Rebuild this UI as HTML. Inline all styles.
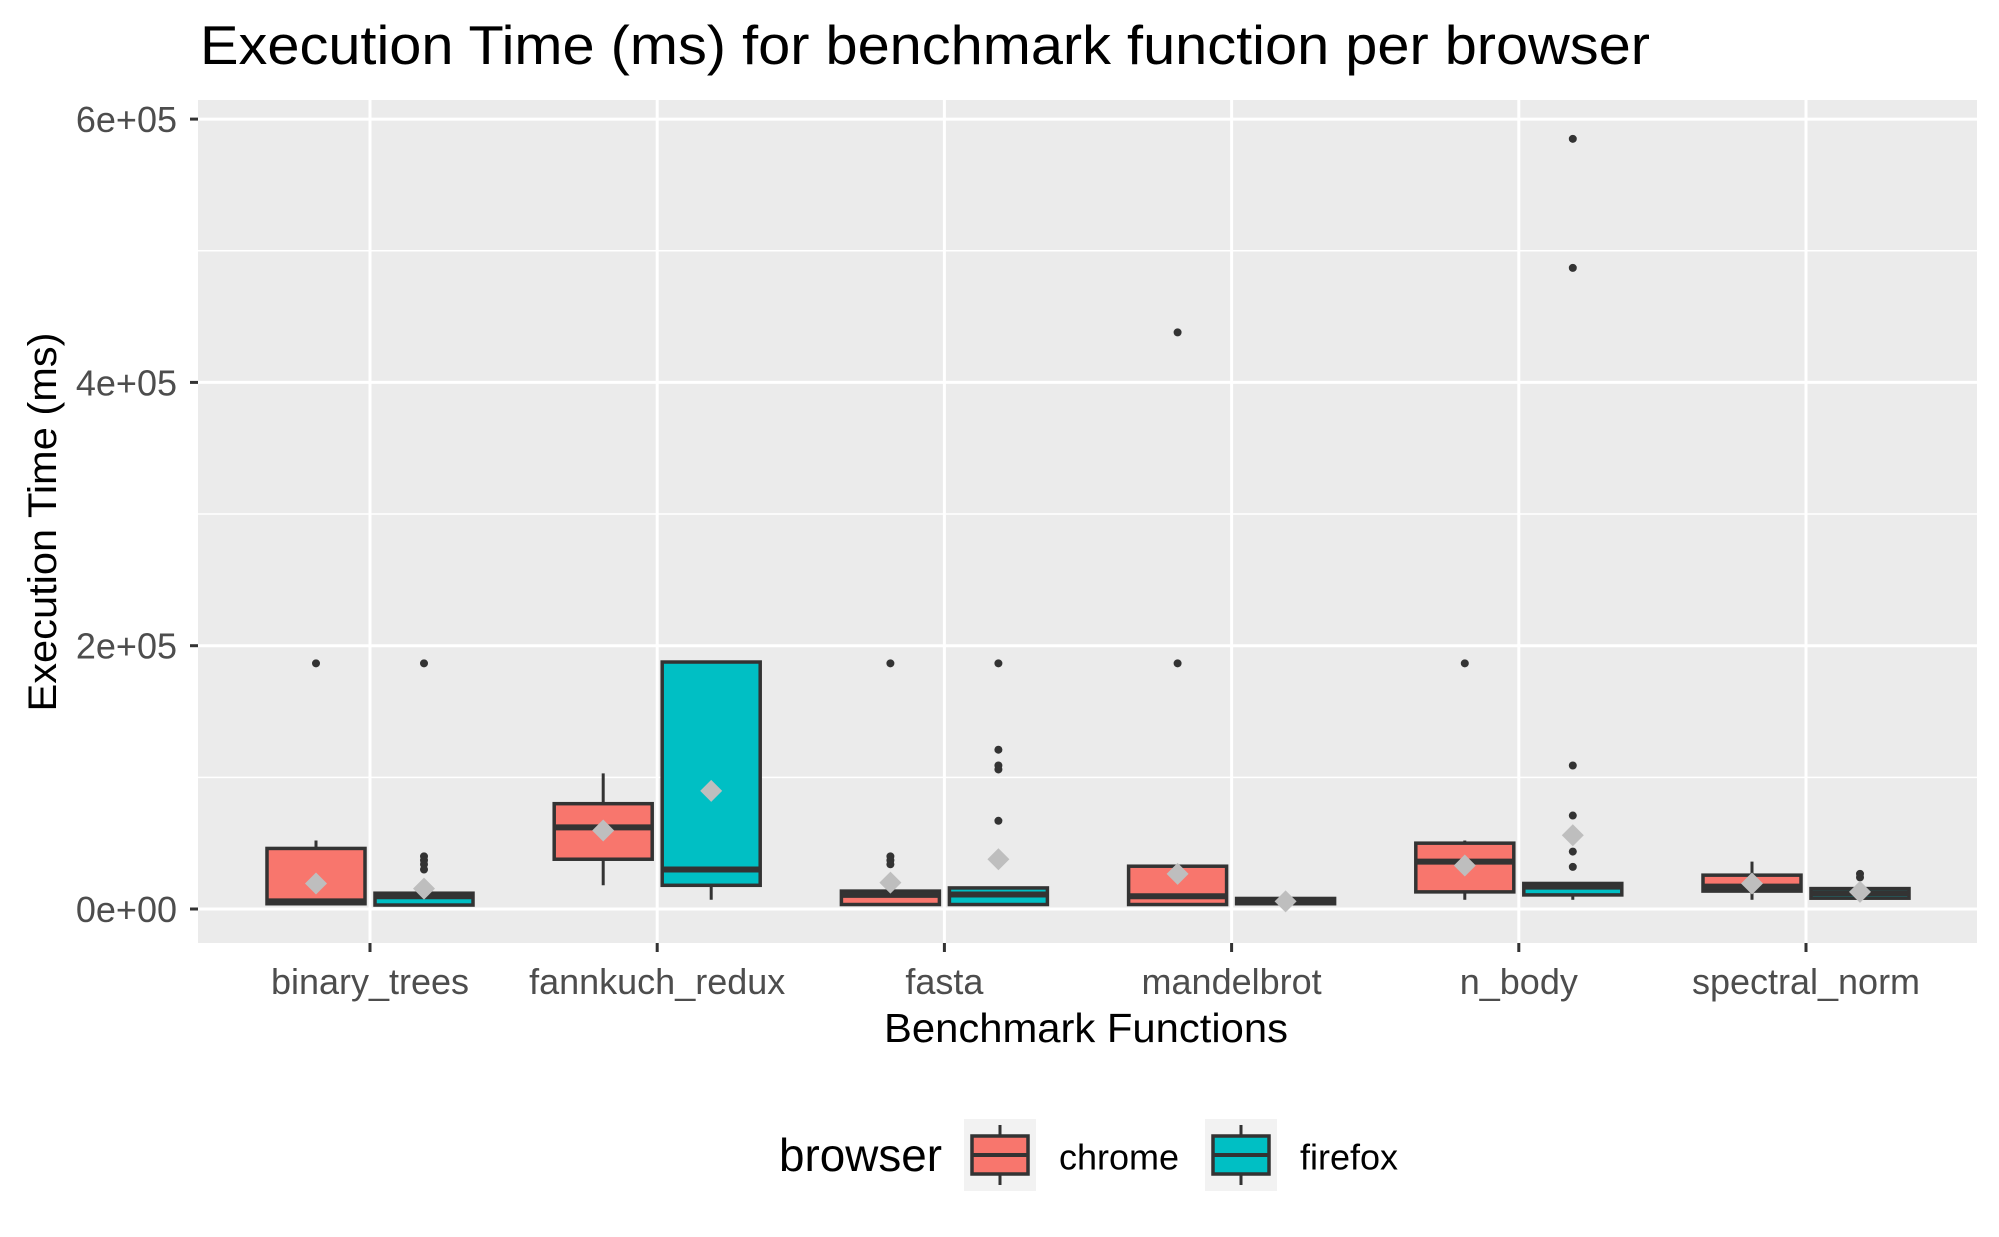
<!DOCTYPE html>
<html><head><meta charset="utf-8"><style>
html,body{margin:0;padding:0;background:#fff;}
svg{display:block;font-family:"Liberation Sans",Arial,sans-serif;}
</style></head><body>
<svg id="chart" width="1999" height="1237" viewBox="0 0 1999 1237">
<text x="200" y="64" font-size="55" fill="#000" textLength="1450" lengthAdjust="spacingAndGlyphs">Execution Time (ms) for benchmark function per browser</text>
<rect x="198" y="100" width="1779" height="843" fill="#EBEBEB"/>
<g id="grid"></g><g id="marks"></g><g id="axes"></g>
<text x="1086" y="1042" font-size="41" text-anchor="middle" fill="#000" textLength="404" lengthAdjust="spacingAndGlyphs">Benchmark Functions</text>
<text transform="translate(56,522) rotate(-90)" font-size="40" text-anchor="middle" fill="#000" textLength="379" lengthAdjust="spacingAndGlyphs">Execution Time (ms)</text>
<g>
<text x="779" y="1171" font-size="46" fill="#000" textLength="163" lengthAdjust="spacingAndGlyphs">browser</text>
<g>
<rect x="964" y="1119" width="72" height="72" fill="#F2F2F2"/>
<line x1="1000" y1="1125" x2="1000" y2="1185" stroke="#333" stroke-width="3"/>
<rect x="972" y="1136" width="56" height="38" fill="#F8766D" stroke="#333" stroke-width="3.5"/>
<line x1="972" y1="1155" x2="1028" y2="1155" stroke="#333" stroke-width="4"/>
<text x="1059" y="1157" font-size="36" dominant-baseline="central" fill="#000">chrome</text></g>
<g>
<rect x="1205" y="1119" width="72" height="72" fill="#F2F2F2"/>
<line x1="1241" y1="1125" x2="1241" y2="1185" stroke="#333" stroke-width="3"/>
<rect x="1213" y="1136" width="56" height="38" fill="#00BFC4" stroke="#333" stroke-width="3.5"/>
<line x1="1213" y1="1155" x2="1269" y2="1155" stroke="#333" stroke-width="4"/>
<text x="1300" y="1157" font-size="36" dominant-baseline="central" fill="#000">firefox</text></g>
</g>
</svg>
<script>
const categories=["binary_trees","fannkuch_redux","fasta","mandelbrot","n_body","spectral_norm"];
const browsers=["chrome","firefox"];
const yTicks=[0,200000,400000,600000];
const yTickLabels=["0e+00","2e+05","4e+05","6e+05"];
// [lowWhisker, q1, median, q3, highWhisker] per category
const chromeStats=[[3000,4000,5800,46000,52000],[18000,37800,62000,80000,103000],[3400,3400,10700,13600,14500],[3400,3400,9700,32500,32500],[7000,13000,36000,50000,52000],[7000,13600,17000,25700,36000]];
const firefoxStats=[[3000,3000,9700,12000,13000],[7000,18000,30000,187600,187600],[3400,3400,11000,16000,16000],[4000,4000,6000,8000,8000],[7000,10700,17000,19400,19400],[8200,8200,12000,15500,15500]];
const chromeMeans=[19400,59600,20000,26700,33000,19400];
const firefoxMeans=[15500,89700,37800,5800,56000,13000];
const chromeOutliers=[[186600],[],[186600,40000,37000,34000],[186600,438000],[186600],[]];
const firefoxOutliers=[[186600,40000,37000,34000,30000],[],[186600,121000,109000,106000,67000],[],[585000,487000,109000,71000,43600,32000],[26700,24000]];
const colors={chrome:"#F8766D",firefox:"#00BFC4"};
const NS="http://www.w3.org/2000/svg";
const X0=370,DX=287.2,Y0=909,YPER=263.3/200000,OFF=54,BW=98;
const xs=i=>X0+i*DX;
const ys=v=>Y0-v*YPER;
function mk(tag,attrs,parent){const e=document.createElementNS(NS,tag);for(const k in attrs)e.setAttribute(k,attrs[k]);parent.appendChild(e);return e;}
const grid=document.getElementById('grid'),marks=document.getElementById('marks'),axes=document.getElementById('axes');
for(let i=0;i<yTicks.length-1;i++){const v=(yTicks[i]+yTicks[i+1])/2;
 const l=mk('line',{x1:198,x2:1977,y1:ys(v),y2:ys(v),stroke:'#fff','stroke-width':1.5},grid);
 
 }
yTicks.forEach((v,i)=>{
 const l=mk('line',{x1:198,x2:1977,y1:ys(v),y2:ys(v),stroke:'#fff','stroke-width':3},grid);
 
 
 const t=mk('line',{x1:190,x2:198,y1:ys(v),y2:ys(v),stroke:'#333','stroke-width':3},axes);
 
 
 const tx=mk('text',{x:177,y:ys(v)+13,'font-size':36,'text-anchor':'end',fill:'#4D4D4D'},axes);
 tx.textContent=yTickLabels[i];
 
 
});
categories.forEach((c,i)=>{
 const l=mk('line',{x1:xs(i),x2:xs(i),y1:100,y2:943,stroke:'#fff','stroke-width':3},grid);
 
 
 const t=mk('line',{x1:xs(i),x2:xs(i),y1:943,y2:952,stroke:'#333','stroke-width':3},axes);
 
 
 const tx=mk('text',{x:xs(i),y:994,'font-size':36,'text-anchor':'middle',fill:'#4D4D4D'},axes);
 tx.textContent=c;
 
 
});
function drawBox(i,b,s,mean,outs){
 const cx=xs(i)+(b==='chrome'?-OFF:OFF);
 const g=mk('g',{},marks);
 
 
 mk('line',{x1:cx,x2:cx,y1:ys(s[0]),y2:ys(s[4]),stroke:'#333','stroke-width':3},g);
 mk('rect',{x:cx-BW/2,y:ys(s[3]),width:BW,height:Math.max(ys(s[1])-ys(s[3]),0.5),fill:colors[b],stroke:'#333','stroke-width':3.5},g);
 mk('line',{x1:cx-BW/2,x2:cx+BW/2,y1:ys(s[2]),y2:ys(s[2]),stroke:'#333','stroke-width':6},g);
 outs.forEach(v=>{const o=mk('circle',{cx:cx,cy:ys(v),r:4,fill:'#333'},g);
  
  });
 const my=ys(mean),r=11;
 const d=mk('polygon',{points:`${cx},${my-r} ${cx+r},${my} ${cx},${my+r} ${cx-r},${my}`,fill:'#BEBEBE'},g);
 
 
}
categories.forEach((c,i)=>{
 drawBox(i,'chrome',chromeStats[i],chromeMeans[i],chromeOutliers[i]);
 drawBox(i,'firefox',firefoxStats[i],firefoxMeans[i],firefoxOutliers[i]);
});
</script>
</body></html>
